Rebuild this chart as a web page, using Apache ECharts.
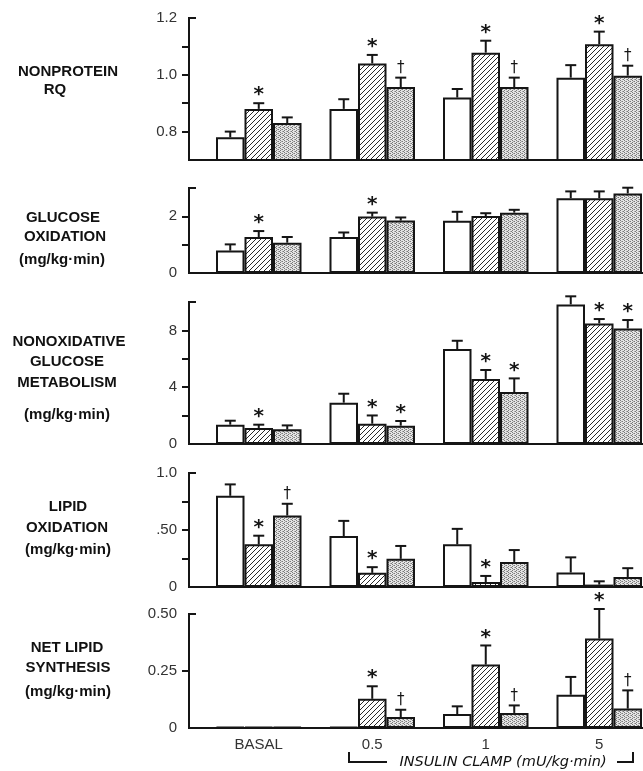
<!DOCTYPE html>
<html><head><meta charset="utf-8">
<script src="https://cdn.jsdelivr.net/npm/echarts/dist/echarts.min.js"></script>
<style>html,body{margin:0;padding:0;background:#fff}#c{width:643px;height:771px}</style>
</head><body><div id="c"></div>
<script>
// ---------- DATA ----------
const categories = ['BASAL', '0.5', '1', '5'];

// Panel 1: Nonprotein RQ
const rqOpen = [0.78, 0.88, 0.92, 0.99];
const rqOpenSE = [0.02, 0.034, 0.03, 0.044];
const rqHatch = [0.88, 1.04, 1.078, 1.108];
const rqHatchSE = [0.02, 0.03, 0.042, 0.044];
const rqDot = [0.83, 0.957, 0.957, 0.997];
const rqDotSE = [0.02, 0.033, 0.033, 0.035];
const rqOpenMarks = ['', '', '', ''];
const rqHatchMarks = ['*', '*', '*', '*'];
const rqDotMarks = ['', '†', '†', '†'];
const rqTicks = [0.8, 0.9, 1.0, 1.1];
const rqLabelValues = [0.8, 1.0, 1.2];
const rqLabelTexts = ['0.8', '1.0', '1.2'];

// Panel 2: Glucose oxidation
const goOpen = [0.79, 1.27, 1.84, 2.64];
const goOpenSE = [0.22, 0.16, 0.32, 0.24];
const goHatch = [1.27, 1.99, 2.01, 2.64];
const goHatchSE = [0.21, 0.14, 0.10, 0.24];
const goDot = [1.07, 1.85, 2.13, 2.81];
const goDotSE = [0.20, 0.11, 0.10, 0.20];
const goOpenMarks = ['', '', '', ''];
const goHatchMarks = ['*', '*', '', ''];
const goDotMarks = ['', '', '', ''];
const goTicks = [1, 2];
const goLabelValues = [0, 2];
const goLabelTexts = ['0', '2'];

// Panel 3: Nonoxidative glucose metabolism
const ngOpen = [1.36, 2.91, 6.69, 9.83];
const ngOpenSE = [0.28, 0.63, 0.58, 0.57];
const ngHatch = [1.13, 1.43, 4.58, 8.49];
const ngHatchSE = [0.23, 0.58, 0.63, 0.31];
const ngDot = [1.03, 1.29, 3.66, 8.14];
const ngDotSE = [0.28, 0.33, 0.96, 0.59];
const ngOpenMarks = ['', '', '', ''];
const ngHatchMarks = ['*', '*', '*', '*'];
const ngDotMarks = ['', '*', '*', '*'];
const ngTicks = [2, 4, 6, 8];
const ngLabelValues = [0, 4, 8];
const ngLabelTexts = ['0', '4', '8'];

// Panel 4: Lipid oxidation
const loOpen = [0.80, 0.447, 0.374, 0.127];
const loOpenSE = [0.10, 0.133, 0.136, 0.133];
const loHatch = [0.374, 0.124, 0.044, 0.021];
const loHatchSE = [0.076, 0.05, 0.053, 0.029];
const loDot = [0.627, 0.247, 0.22, 0.088];
const loDotSE = [0.103, 0.113, 0.104, 0.077];
const loOpenMarks = ['', '', '', ''];
const loHatchMarks = ['*', '*', '*', ''];
const loDotMarks = ['†', '', '', ''];
const loTicks = [0.25, 0.5, 0.75];
const loLabelValues = [0, 0.5, 1.0];
const loLabelTexts = ['0', '.50', '1.0'];

// Panel 5: Net lipid synthesis
const lsOpen = [0.004, 0.004, 0.061, 0.146];
const lsOpenSE = [0, 0, 0.034, 0.078];
const lsHatch = [0.004, 0.128, 0.278, 0.392];
const lsHatchSE = [0, 0.055, 0.084, 0.13];
const lsDot = [0.004, 0.048, 0.066, 0.085];
const lsDotSE = [0, 0.032, 0.033, 0.08];
const lsOpenMarks = ['', '', '', ''];
const lsHatchMarks = ['', '*', '*', '*'];
const lsDotMarks = ['', '†', '†', '†'];
const lsTicks = [0.25];
const lsLabelValues = [0, 0.25, 0.5];
const lsLabelTexts = ['0', '0.25', '0.50'];

// Left-hand panel titles
const rqTitle = ['NONPROTEIN', 'RQ'];
const goTitle = ['GLUCOSE', 'OXIDATION', '(mg/kg·min)'];
const ngTitle = ['NONOXIDATIVE', 'GLUCOSE', 'METABOLISM', '(mg/kg·min)'];
const loTitle = ['LIPID', 'OXIDATION', '(mg/kg·min)'];
const lsTitle = ['NET LIPID', 'SYNTHESIS', '(mg/kg·min)'];
const clampText = 'INSULIN CLAMP (mU/kg·min)';

// ---------- LAYOUT / STYLE ----------
const INK = '#151515';
const BAR_W = 28.5;
const GRID_LEFT = 202, GRID_W = 454, AXIS_OFF = 13;
const gridBoxes = [
  {top: 18, height: 142},
  {top: 188, height: 85},
  {top: 302, height: 142},
  {top: 473, height: 114},
  {top: 614, height: 114}
];
const ranges = [[0.7, 1.2, 0.1], [0, 3, 1], [0, 10, 2], [0, 1, 0.25], [0, 0.5, 0.25]];
const titlePos = [
  [[68, 72], [55, 90]],
  [[63, 218], [65, 237], [62, 260]],
  [[69, 342], [67, 362], [67, 383], [67, 415]],
  [[68, 507], [67, 528], [68, 550]],
  [[67, 648], [68, 668], [68, 692]]
];

const panels = [
  {vals: [rqOpen, rqHatch, rqDot], se: [rqOpenSE, rqHatchSE, rqDotSE], marks: [rqOpenMarks, rqHatchMarks, rqDotMarks], ticks: rqTicks, lv: rqLabelValues, lt: rqLabelTexts, title: rqTitle},
  {vals: [goOpen, goHatch, goDot], se: [goOpenSE, goHatchSE, goDotSE], marks: [goOpenMarks, goHatchMarks, goDotMarks], ticks: goTicks, lv: goLabelValues, lt: goLabelTexts, title: goTitle},
  {vals: [ngOpen, ngHatch, ngDot], se: [ngOpenSE, ngHatchSE, ngDotSE], marks: [ngOpenMarks, ngHatchMarks, ngDotMarks], ticks: ngTicks, lv: ngLabelValues, lt: ngLabelTexts, title: ngTitle},
  {vals: [loOpen, loHatch, loDot], se: [loOpenSE, loHatchSE, loDotSE], marks: [loOpenMarks, loHatchMarks, loDotMarks], ticks: loTicks, lv: loLabelValues, lt: loLabelTexts, title: loTitle},
  {vals: [lsOpen, lsHatch, lsDot], se: [lsOpenSE, lsHatchSE, lsDotSE], marks: [lsOpenMarks, lsHatchMarks, lsDotMarks], ticks: lsTicks, lv: lsLabelValues, lt: lsLabelTexts, title: lsTitle}
];

function hatchPattern() {
  const n = 5;
  const c = document.createElement('canvas'); c.width = n; c.height = n;
  const g = c.getContext('2d');
  g.fillStyle = '#fff'; g.fillRect(0, 0, n, n);
  g.strokeStyle = '#2a2a2a'; g.lineWidth = 1;
  g.beginPath();
  g.moveTo(0, n); g.lineTo(n, 0);
  g.moveTo(-1, 1); g.lineTo(1, -1);
  g.moveTo(n - 1, n + 1); g.lineTo(n + 1, n - 1);
  g.stroke();
  return c;
}
function dotPattern() {
  const c = document.createElement('canvas'); c.width = 4; c.height = 4;
  const g = c.getContext('2d');
  g.fillStyle = '#e4e4e4'; g.fillRect(0, 0, 4, 4);
  g.fillStyle = '#7a7a7a';
  g.fillRect(0, 0, 1, 1); g.fillRect(2, 1, 1, 1); g.fillRect(0, 2, 1, 1); g.fillRect(3, 3, 1, 1);
  g.fillStyle = '#a8a8a8';
  g.fillRect(2, 3, 1, 1); g.fillRect(1, 1, 1, 1);
  return c;
}
const fills = ['#ffffff', {image: hatchPattern(), repeat: 'repeat'}, {image: dotPattern(), repeat: 'repeat'}];

function nearIdx(arr, v) { return arr.findIndex(a => Math.abs(a - v) < 1e-6); }

const grid = [], xAxis = [], yAxis = [], series = [], graphic = [];

panels.forEach((p, pi) => {
  const gb = gridBoxes[pi];
  grid.push({left: GRID_LEFT, width: GRID_W, top: gb.top, height: gb.height, outerBoundsMode: 'none', containLabel: false});
  xAxis.push({
    type: 'category', gridIndex: pi, data: categories,
    axisLine: {show: true, onZero: false, lineStyle: {color: INK, width: 2}},
    axisTick: {show: false},
    axisLabel: {show: pi === 4, color: '#333', fontSize: 15, fontFamily: 'Liberation Sans', margin: 9},
    splitLine: {show: false}
  });
  const r = ranges[pi];
  yAxis.push({
    type: 'value', gridIndex: pi, min: r[0], max: r[1], interval: r[2], offset: AXIS_OFF,
    axisLine: {show: true, lineStyle: {color: INK, width: 2}},
    axisTick: {show: true, customValues: p.ticks, length: 7, lineStyle: {color: INK, width: 2}},
    axisLabel: {
      customValues: p.lv, margin: 12, color: '#333', fontSize: 15, fontFamily: 'Liberation Sans',
      formatter: v => { const k = nearIdx(p.lv, v); return k >= 0 ? p.lt[k] : ''; }
    },
    splitLine: {show: false}
  });
  for (let j = 0; j < 3; j++) {
    series.push({
      type: 'bar', xAxisIndex: pi, yAxisIndex: pi, data: p.vals[j],
      barWidth: BAR_W, barGap: '0%', z: 2,
      itemStyle: {color: fills[j], borderColor: INK, borderWidth: 2},
      emphasis: {disabled: true}, silent: true
    });
  }
  for (let j = 0; j < 3; j++) {
    const means = p.vals[j], ses = p.se[j], marks = p.marks[j];
    series.push({
      type: 'custom', xAxisIndex: pi, yAxisIndex: pi, z: 5, clip: false, silent: true,
      data: means.map((m, i) => [i, m, ses[i]]),
      renderItem: (params, api) => {
        const i = api.value(0), m = api.value(1), se = api.value(2);
        const base = api.coord([i, m]);
        const x = base[0] + (j - 1) * BAR_W;
        const yTop = api.coord([i, m + se])[1];
        const ch = [];
        if (se > 0) {
          ch.push({type: 'line', shape: {x1: x, y1: base[1], x2: x, y2: yTop}, style: {stroke: INK, lineWidth: 2}});
          ch.push({type: 'line', shape: {x1: x - 5.5, y1: yTop, x2: x + 5.5, y2: yTop}, style: {stroke: INK, lineWidth: 2}});
        }
        const mk = marks[params.dataIndex];
        if (mk) {
          const isStar = mk === '*';
          ch.push({type: 'text', style: {
            text: mk, x: x, y: yTop - (isStar ? 8 : 9.5),
            textAlign: 'center', textVerticalAlign: 'middle',
            fill: INK,
            font: isStar ? 'bold 20px "DejaVu Sans"' : '15px "DejaVu Sans"'
          }});
        }
        return {type: 'group', children: ch};
      }
    });
  }
  // top cap and corner join
  graphic.push({type: 'line', shape: {x1: GRID_LEFT - AXIS_OFF - 1, y1: gb.top, x2: GRID_LEFT - AXIS_OFF + 7, y2: gb.top}, style: {stroke: INK, lineWidth: 2}});
  graphic.push({type: 'line', shape: {x1: GRID_LEFT - AXIS_OFF - 1, y1: gb.top + gb.height, x2: GRID_LEFT, y2: gb.top + gb.height}, style: {stroke: INK, lineWidth: 2}});
  // titles
  p.title.forEach((t, k) => {
    const pos = titlePos[pi][k];
    graphic.push({type: 'text', x: pos[0], y: pos[1], style: {
      text: t, textAlign: 'center', textVerticalAlign: 'middle', fill: '#111',
      font: 'bold 15px "Liberation Sans"'
    }});
  });
});

// Insulin clamp bracket
const bx1 = 349, bx2 = 633, by = 762, bh = 10;
graphic.push({type: 'polyline', shape: {points: [[bx1, by - bh], [bx1, by], [387, by]]}, style: {stroke: INK, lineWidth: 2, fill: null}});
graphic.push({type: 'polyline', shape: {points: [[617, by], [bx2, by], [bx2, by - bh]]}, style: {stroke: INK, lineWidth: 2, fill: null}});
graphic.push({type: 'text', x: 503, y: by, style: {
  text: clampText, textAlign: 'center', textVerticalAlign: 'middle', fill: '#111',
  font: 'italic 14.5px "DejaVu Sans"'
}});

const chart = echarts.init(document.getElementById('c'), null, {renderer: 'canvas'});
chart.setOption({
  backgroundColor: '#ffffff',
  animation: false,
  grid, xAxis, yAxis, series, graphic
});
</script>
</body></html>
